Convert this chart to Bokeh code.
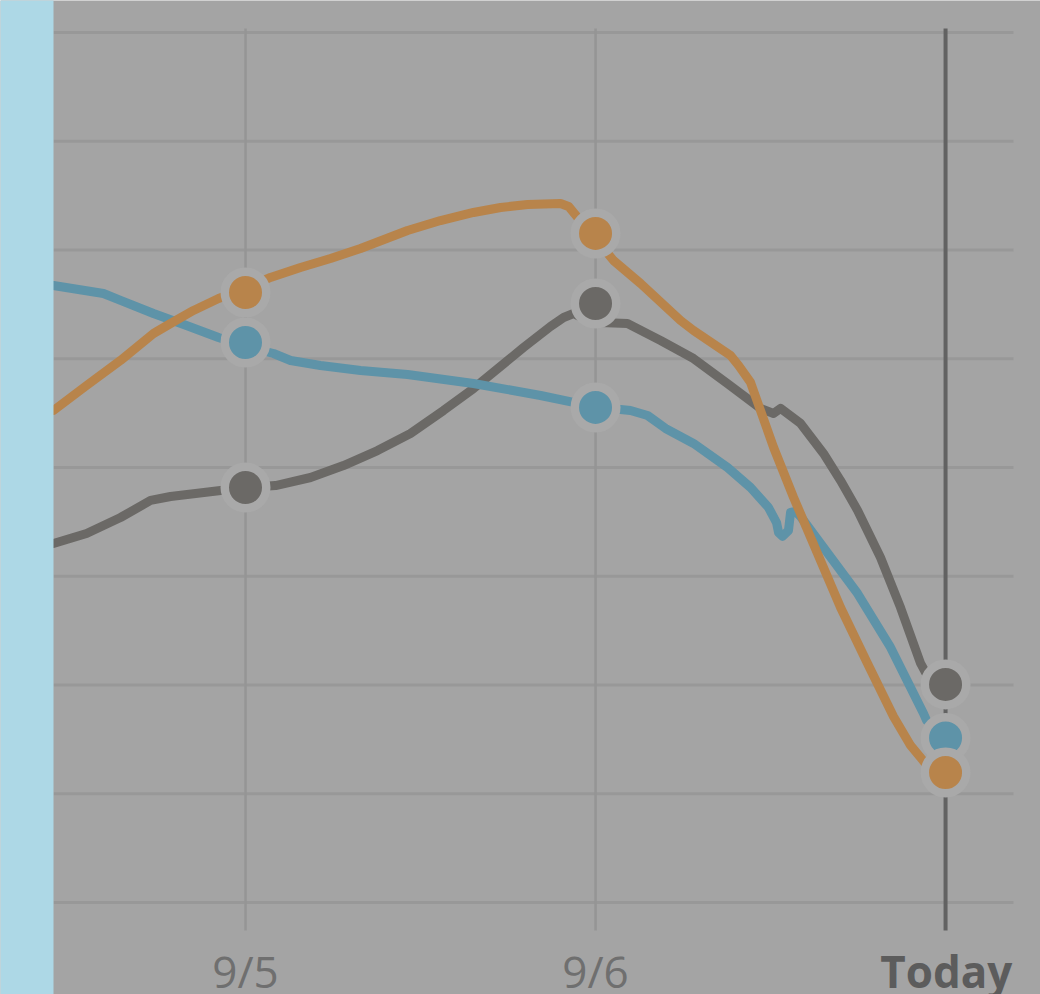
from bokeh.plotting import figure
from bokeh.models import Range1d
from bokeh.core.properties import value
from bokeh.embed import file_html
from bokeh.resources import INLINE

# ---- data (x in hours since 9/5 00:00, y in chart units) ----
tick_x = [0, 24, 48]
tick_labels = ["9/5", "9/6", "Today"]
grid_y = [0, 10, 20, 30, 40, 50, 60, 70, 80]

orange_x = [-13.17, -10.90, -8.57, -6.31, -5.14, -3.57, -1.85, 0.0, 1.71, 3.77, 5.83, 7.89,
            11.11, 13.37, 15.63, 17.49, 19.34, 21.60, 22.15, 22.77, 24.00, 25.23, 27.09,
            29.83, 30.72, 33.26, 33.81, 34.63, 36.21, 37.58, 39.22, 40.80, 42.65, 44.43,
            45.60, 46.63]
orange_y = [45.24, 47.54, 49.84, 52.32, 53.24, 54.44, 55.54, 56.46, 57.47, 58.39, 59.22, 60.14,
            61.79, 62.71, 63.45, 63.91, 64.18, 64.28, 64.00, 62.99, 61.06, 59.03, 56.92,
            53.52, 52.60, 50.30, 49.38, 47.82, 41.84, 37.24, 32.09, 27.13, 21.98, 17.10,
            14.44, 12.78]

gray_x = [-13.17, -10.90, -8.57, -6.51, -5.14, -1.71, 0.14, 2.06, 4.46, 6.72, 9.05, 11.31,
          13.58, 15.63, 19.06, 20.91, 21.81, 22.49, 23.45, 24.34, 26.19, 28.46, 30.72, 33.05,
          35.31, 36.21, 36.69, 38.06, 39.63, 40.80, 41.97, 43.54, 44.91, 46.29, 46.63]
gray_y = [33.01, 33.93, 35.40, 36.97, 37.33, 37.89, 38.16, 38.34, 39.08, 40.18, 41.56, 43.13,
          45.24, 47.26, 51.03, 52.97, 53.79, 54.16, 53.52, 53.33, 53.24, 51.68, 50.02, 47.72,
          45.43, 44.97, 45.43, 44.05, 41.29, 38.80, 36.05, 31.72, 27.13, 21.98, 21.15]

blue_x = [-13.17, -9.74, -8.57, -6.31, -4.05, -1.85, 0.0, 1.92, 3.09, 5.14, 7.89, 11.11,
          15.63, 20.23, 22.49, 24.34, 26.40, 27.57, 28.80, 30.72, 33.05, 34.63, 35.86, 36.41,
          36.55, 36.82, 37.23, 37.37, 37.71, 38.06, 39.63, 41.97, 44.23, 46.49, 46.70]
blue_y = [56.74, 56.00, 55.36, 54.16, 53.06, 51.95, 51.13, 50.48, 49.84, 49.38, 48.92, 48.55,
          47.72, 46.62, 45.98, 45.52, 45.24, 44.78, 43.59, 42.21, 40.00, 38.16, 36.32, 34.94,
          34.02, 33.66, 34.21, 35.86, 35.95, 35.49, 32.64, 28.41, 23.45, 17.38, 16.74]

marker_x = [0, 24, 48]
orange_m = [56.09, 61.52, 11.95]
gray_m = [38.16, 55.08, 20.05]
blue_m = [51.49, 45.52, 15.13]

# ---- styles ----
BG = "#a4a4a4"
GRID = "#989898"
ORANGE = "#b8844b"
BLUE = "#5e93a8"
GRAYC = "#6b6966"
HALO = "#a9a9a9"

p = figure(width=1040, height=994, output_backend="svg", toolbar_location=None,
           x_range=Range1d(-16.8, 54.51), y_range=Range1d(-8.46, 82.94),
           x_axis_location=None, y_axis_location=None, min_border=0,
           background_fill_color=BG, border_fill_color=BG, outline_line_color=None)
p.grid.visible = False

grid_left, grid_right = -13.166, 52.66
vgrid_bottom, vgrid_top = -2.575, 80.37

# horizontal grid lines
p.segment(x0=[grid_left] * len(grid_y), y0=grid_y, x1=[grid_right] * len(grid_y), y1=grid_y,
          line_color=GRID, line_width=3)
# vertical grid lines
p.segment(x0=tick_x[:2], y0=[vgrid_bottom] * 2, x1=tick_x[:2], y1=[vgrid_top] * 2,
          line_color="#959595", line_width=2.5)
# today line
p.segment(x0=[tick_x[2]], y0=[vgrid_bottom], x1=[tick_x[2]], y1=[vgrid_top],
          line_color="#626262", line_width=4)

# series lines
for xs, ys, c in [(gray_x, gray_y, GRAYC), (blue_x, blue_y, BLUE), (orange_x, orange_y, ORANGE)]:
    p.line(xs, ys, line_color=c, line_width=9, line_join="round", line_cap="round")

# markers with halos
for ys, c in [(gray_m, GRAYC), (blue_m, BLUE), (orange_m, ORANGE)]:
    p.scatter(marker_x, ys, size=41.5, fill_color=c, line_color=HALO, line_width=8.5)

# tick labels
p.text(x=tick_x[:2], y=[-5, -5], text=tick_labels[:2], text_font=value("Open Sans"),
       text_font_size="44px", text_color="#6f6f6f", text_align="center",
       text_baseline="alphabetic", y_offset=14)
p.text(x=[tick_x[2] + 0.05], y=[-5], text=[tick_labels[2]], text_font=value("Open Sans"),
       text_font_size="44px", text_font_style="bold", text_color="#5c5c5c",
       text_align="center", text_baseline="alphabetic", y_offset=14)

# left light-blue strip
p.quad(left=[-20], right=[grid_left], bottom=[-20], top=[100], fill_color="#add8e6",
       line_color=None)

open("out.html", "w").write(file_html(p, INLINE))
